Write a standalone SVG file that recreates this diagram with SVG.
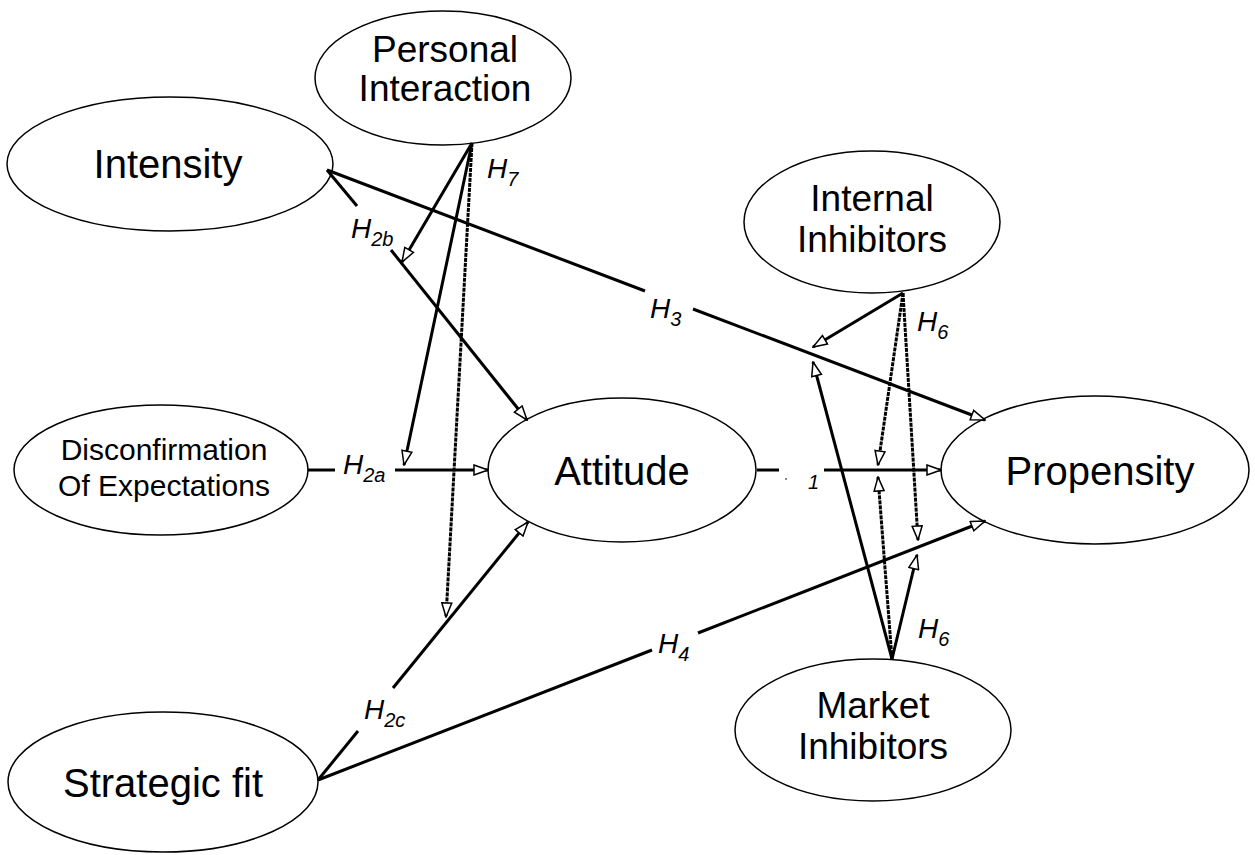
<svg xmlns="http://www.w3.org/2000/svg" width="1255" height="855" viewBox="0 0 1255 855">
<style>
.node ellipse{fill:#fff;stroke:#000;stroke-width:1.5}
.node text{font-family:"Liberation Sans",Arial,sans-serif;font-size:40px;text-anchor:middle;fill:#000}
.node text.md{font-size:37px}
.node text.sm{font-size:30px}
.c{fill:none;stroke:#000;stroke-width:3}
.d{fill:none;stroke:#000;stroke-width:3;stroke-dasharray:4 1}
.lbl{font-family:"Liberation Sans",Arial,sans-serif;font-style:italic;font-size:28px;fill:#000}
.lbl tspan.s{font-size:20px}
</style>
<defs>
<marker id="ah" viewBox="0 0 16 12" refX="15" refY="6" markerWidth="16" markerHeight="12" markerUnits="userSpaceOnUse" orient="auto">
<path d="M1,1 L15,6 L1,11 z" fill="#fff" stroke="#000" stroke-width="1.5"/>
</marker>
</defs>
<rect width="1255" height="855" fill="#fff"/>
<g id="n_personal" class="node"><ellipse cx="443" cy="78" rx="128" ry="67"/><text class="md" x="445" y="62">Personal</text><text class="md" x="445" y="101">Interaction</text></g>
<g id="n_intensity" class="node"><ellipse cx="170" cy="164" rx="163" ry="67"/><text x="168" y="178">Intensity</text></g>
<g id="n_internal" class="node"><ellipse cx="872" cy="222" rx="128" ry="71"/><text class="md" x="872" y="211">Internal</text><text class="md" x="872" y="252">Inhibitors</text></g>
<g id="n_disconf" class="node"><ellipse cx="161" cy="470" rx="147" ry="65"/><text class="sm" x="164" y="460">Disconfirmation</text><text class="sm" x="164" y="496">Of Expectations</text></g>
<g id="n_attitude" class="node"><ellipse cx="622" cy="470" rx="134" ry="72"/><text x="622" y="485">Attitude</text></g>
<g id="n_propensity" class="node"><ellipse cx="1095" cy="470" rx="154" ry="74"/><text x="1100" y="485">Propensity</text></g>
<g id="n_market" class="node"><ellipse cx="873" cy="730" rx="138" ry="71"/><text class="md" x="873" y="718">Market</text><text class="md" x="873" y="759">Inhibitors</text></g>
<g id="n_strategic" class="node"><ellipse cx="163" cy="782" rx="155" ry="70"/><text x="163" y="797">Strategic fit</text></g>
<g id="connectors">
<path class="c" d="M327,170 L645,291"/>
<path class="c" d="M693,309 L985,420" marker-end="url(#ah)"/>
<path class="c" d="M327,170 L357,206"/>
<path class="c" d="M391,250 L527,420" marker-end="url(#ah)"/>
<path class="c" d="M472,143 L402,262" marker-end="url(#ah)"/>
<path class="c" d="M472,143 L404,465" marker-end="url(#ah)"/>
<path class="d" d="M472,143 L446,617" marker-end="url(#ah)"/>
<path class="c" d="M308,470 L335,470"/>
<path class="c" d="M395,470 L488,470" marker-end="url(#ah)"/>
<path class="c" d="M318,780 L358,731"/>
<path class="c" d="M393,688 L528,522" marker-end="url(#ah)"/>
<path class="c" d="M318,780 L652,650"/>
<path class="c" d="M698,633 L985,521" marker-end="url(#ah)"/>
<path class="c" d="M757,470 L779,470"/>
<path class="c" d="M824,470 L941,470" marker-end="url(#ah)"/>
<path class="c" d="M903,293 L813,347" marker-end="url(#ah)"/>
<path class="d" d="M903,293 L878,465" marker-end="url(#ah)"/>
<path class="d" d="M903,293 L918,540" marker-end="url(#ah)"/>
<path class="c" d="M892,659 L813,362" marker-end="url(#ah)"/>
<path class="d" d="M892,659 L878,477" marker-end="url(#ah)"/>
<path class="c" d="M892,659 L917,555" marker-end="url(#ah)"/>
<text class="lbl" x="487" y="178">H<tspan class="s" dy="8">7</tspan></text>
<text class="lbl" x="351" y="238">H<tspan class="s" dy="8">2b</tspan></text>
<text class="lbl" x="650" y="318">H<tspan class="s" dy="8">3</tspan></text>
<text class="lbl" x="917" y="331">H<tspan class="s" dy="8">6</tspan></text>
<text class="lbl" x="343" y="474">H<tspan class="s" dy="8">2a</tspan></text>
<rect x="785" y="478" width="2" height="2" fill="#888"/>
<text class="lbl" x="808" y="489"><tspan class="s">1</tspan></text>
<text class="lbl" x="918" y="638">H<tspan class="s" dy="8">6</tspan></text>
<text class="lbl" x="658" y="653">H<tspan class="s" dy="8">4</tspan></text>
<text class="lbl" x="364" y="719">H<tspan class="s" dy="8">2c</tspan></text>
</g>
</svg>
